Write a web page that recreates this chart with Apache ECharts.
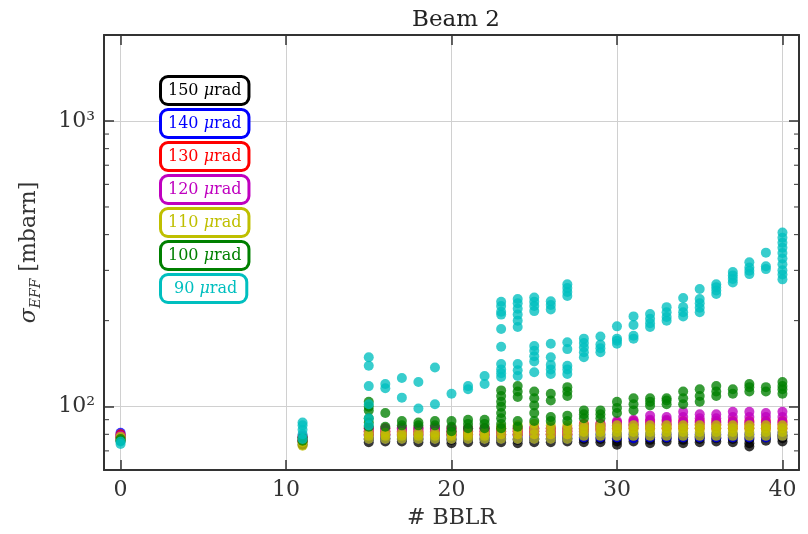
<!DOCTYPE html>
<html>
<head>
<meta charset="utf-8">
<script src="https://cdn.jsdelivr.net/npm/echarts@6/dist/echarts.min.js"></script>
<style>html,body{margin:0;padding:0;background:#fff;}#c{width:808px;height:534px;}</style>
</head>
<body>
<div id="c"></div>
<script>
// ---- data ----
const bblr = [0, 11, 15, 16, 17, 18, 19, 20, 21, 22, 23, 24, 25, 26, 27, 28, 29, 30, 31, 32, 33, 34, 35, 36, 37, 38, 39, 40];
const seriesNames = ['150 μrad', '140 μrad', '130 μrad', '120 μrad', '110 μrad', '100 μrad', '90 μrad'];
const yTickLabels = {100: '10²', 1000: '10³'};
const minorTickValues = [70, 80, 90, 200, 300, 400, 500, 600, 700, 800, 900, 2000];

const sig150 = [[76,78],[73.5,75.5],[75,77],[75.5,77.5],[75.5,77],[75,77],[75,77],[74.5,76.5],[75,77],[75,77],[75,77],[74.5,76.5],[75,77],[75,77],[75.5,77.5],
  [75,77],[75,77],[73.5,75.5,77.5],[75.5,77.5],[74.5,76.5,78],[75.5,77.5],[74.5,76.5,78],[75,77,78.5],[75.5,77.5],[75,77,79],[72.5,74.5,77],[76,78],[75.5,77.5,79]];
const sig140 = [[79.5,81],[76,78],[77,79],[77,79],[77,79],[77,79],[77,79],[77,79],[77,79],[77,79],[77,79],[77,79],[77,79],[77,79],[77,79],
  [78,80],[78,80],[78,80],[77.5,80],[78,80],[78,80],[78,80],[78,80],[78,80],[78,80],[78,80],[78,80],[79,81]];
const sig130 = [[78.5,80],[76,78],[80,82,84],[80,82,84],[80,82,84],[80,82,84],[80,82,84],[80,82,84],[80,82,84],[80,82,84],[80,82,84],[80,82,84],[80,82,84],[80,82,84],[80,82,84],
  [83,85,87],[83,85,87],[84,86,88],[84,86.5,89],[84,86.5,89],[84,86.5,89],[84,86.5,89],[84,86.5,89],[84,86.5,89],[84,86.5,89],[84,86.5,89],[84,86.5,89],[84,86.5,89]];
const sig120 = [[78,79],[77,79],[80,82,84],[80,82,84],[81,83,84.5],[81,83,84.5],[81,83,84.5],[80,82,84],[80,82,84],[80,82,84],[80,82,84],[80,82,84],[80,82,84],[80,82,84],[80,82,84],
  [82,84,86],[83,85,87],[85,87,89],[86,88,90],[87,90,93],[87,90,92],[88,92,96],[88,91,94],[88,91,94],[88,92,96],[88,92,96],[88,92,95],[88,92,96]];
const sig110 = [[77,78.5],[73,75,77],[77,79,81],[77,79,81],[77,79,81],[77,79,81],[77,79,81],[77,79,81],[77,79,81],[77,79,81],[77,80,83,85],[77,80,83,86],[77,80,83,87],[77,80,83,86],[77,80,83,86],
  [79,81.5,84,86],[79,81.5,84,86],[79,81.5,84,86],[79,81.5,84,86],[79,81.5,84,86],[79,81.5,84,86],[79,81.5,84,86],[79,81.5,84,86],[79,81.5,84,86],[79,81.5,84,86],[79,81.5,84,86],[79,81.5,84,86],[79,81.5,84,86]];
const sig100 = [[76,77],[76,78],[85,88,91,97,100,104],[85,95],[86,89],[86,88],[86,89],[82,85,89],[84,87,90],[84,87,90],[84,87,91,95,100,104,109,114],[85,89,108,113,118],[89,95,101,107,113],[89,92,105,111],[89,93,109,113,117],
  [91,94,97],[91,94,97],[95,99,104],[97,102,107],[101,104,107],[102,105,107],[102,107,113],[104,109,115],[109,113,118],[111,115],[113,117,120],[113,117],[111,115,118,122]];
const sig90 = [[74,75.5],[77,80,83,86,88],[86,91,102,118,139,149],[116,120],[107.5,126],[98.5,122],[102,137],[111],[115,118],[120,128],
  [127,131,135,141,162,187,210,215,225,233],[128,134,141,190,200,210,220,230,238],[132,144,150,157,163,216,225,233,241],[130,135,140,149,166,219,227,234],[130,135,139,159,168,244,252,260,268],
  [149,155,161,167,173],[155,160,165,176],[166,170,173,191],[173,177,193,207],[190,196,203,211],[200,206,214,223],[207,214,223,240],[214,222,230,238,258],[248,255,262,268],[272,280,288,296],[291,299,307,320],[303,310,346],
  [279,290,300,315,330,345,360,375,390,407]];
const seriesValues = [sig150, sig140, sig130, sig120, sig110, sig100, sig90];

// ---- styles ----
const seriesColors = ['#000000', '#0000ff', '#ff0000', '#bf00bf', '#bfbf00', '#008000', '#00bfbf'];
const FONT = 'DejaVu Serif';
const AX = '#333333';

function toPoints(vals) {
  const pts = [];
  vals.forEach((arr, i) => arr.forEach(v => pts.push([bblr[i], v])));
  return pts;
}

const chart = echarts.init(document.getElementById('c'), null, {renderer: 'canvas'});

const scatterSeries = seriesNames.map((name, i) => ({
  name: name,
  type: 'scatter',
  xAxisIndex: 0, yAxisIndex: 0,
  data: toPoints(seriesValues[i]),
  symbol: 'circle',
  symbolSize: 10,
  itemStyle: {color: seriesColors[i], opacity: 0.78},
  emphasis: {disabled: true},
  z: 3 + i
}));

const minorTicks = {
  type: 'custom',
  xAxisIndex: 0, yAxisIndex: 0,
  silent: true,
  clip: false,
  z: 20,
  data: minorTickValues.map(v => [v]),
  renderItem: function (params, api) {
    const v = api.value(0);
    const pL = api.coord([-1, v]);
    const pR = api.coord([41, v]);
    return {
      type: 'group',
      children: [
        {type: 'line', shape: {x1: pL[0], y1: pL[1], x2: pL[0] + 5, y2: pL[1]}, style: {stroke: AX, lineWidth: 1}},
        {type: 'line', shape: {x1: pR[0], y1: pR[1], x2: pR[0] - 5, y2: pR[1]}, style: {stroke: AX, lineWidth: 1}}
      ]
    };
  }
};

function legendLabel(name, i) {
  const short = name.length < 8;
  return {
    name: name,
    textStyle: {
      color: seriesColors[i],
      borderColor: seriesColors[i],
      borderWidth: 3,
      borderRadius: 6,
      backgroundColor: '#ffffff',
      padding: short ? [3, 8, 3, 12] : [3, 6, 3, 6],
      rich: {
        n: {color: seriesColors[i], fontFamily: FONT, fontSize: 16, lineHeight: 19},
        m: {color: seriesColors[i], fontFamily: FONT, fontSize: 16, lineHeight: 19, fontStyle: 'italic'}
      }
    }
  };
}

const option = {
  animation: false,
  backgroundColor: '#ffffff',
  title: {
    text: 'Beam 2',
    left: 451,
    textAlign: 'center',
    top: 4,
    textStyle: {fontFamily: FONT, fontSize: 23, fontWeight: 'normal', color: '#222'}
  },
  legend: {
    orient: 'vertical',
    left: 152,
    top: 70,
    itemGap: 2,
    itemWidth: 0,
    itemHeight: 0,
    icon: 'none',
    selectedMode: false,
    data: seriesNames.map(legendLabel),
    formatter: function (name) {
      const parts = name.split(' ');
      return '{n|' + parts[0] + ' }{m|μ}{n|rad}';
    }
  },
  grid: {left: 104, right: 9, top: 35, bottom: 62},
  xAxis: [{
    type: 'value',
    min: -1, max: 41,
    position: 'bottom',
    name: '# BBLR',
    nameLocation: 'middle',
    nameGap: 37,
    nameTextStyle: {fontFamily: FONT, fontSize: 22, color: '#333'},
    axisLine: {show: true, onZero: false, lineStyle: {color: AX, width: 2}},
    axisTick: {show: true, inside: true, length: 10, lineStyle: {color: AX, width: 1.5}},
    axisLabel: {fontFamily: FONT, fontSize: 22, color: '#333', margin: 9, showMinLabel: false, showMaxLabel: false,
      formatter: v => (v % 10 === 0 ? String(v) : '')},
    splitLine: {show: true, lineStyle: {color: '#d0d0d0', width: 1}}
  }, {
    type: 'value',
    min: -1, max: 41,
    position: 'top',
    axisLine: {show: true, onZero: false, lineStyle: {color: AX, width: 2}},
    axisTick: {show: true, inside: true, length: 10, lineStyle: {color: AX, width: 1.5}},
    axisLabel: {show: false},
    splitLine: {show: false}
  }],
  yAxis: [{
    type: 'log',
    logBase: 10,
    min: 60, max: 2000,
    position: 'left',
    name: '{a|σ}{b|EFF}{c| [mbarn]}',
    nameLocation: 'middle',
    nameRotate: 90,
    nameGap: 61,
    nameTextStyle: {
      rich: {
        a: {fontFamily: FONT, fontSize: 22, fontStyle: 'italic', color: '#333', lineHeight: 28, verticalAlign: 'middle'},
        b: {fontFamily: FONT, fontSize: 14, fontStyle: 'italic', color: '#333', lineHeight: 15, verticalAlign: 'bottom'},
        c: {fontFamily: FONT, fontSize: 22, color: '#333', lineHeight: 28, verticalAlign: 'middle'}
      }
    },
    axisLine: {show: true, onZero: false, lineStyle: {color: AX, width: 2}},
    axisTick: {show: true, inside: true, length: 10, lineStyle: {color: AX, width: 1.5}},
    axisLabel: {fontFamily: FONT, fontSize: 22, color: '#333', margin: 9, showMinLabel: false, showMaxLabel: false,
      formatter: v => (yTickLabels[Math.round(v)] || '')},
    splitLine: {show: true, lineStyle: {color: '#d0d0d0', width: 1}}
  }, {
    type: 'log',
    logBase: 10,
    min: 60, max: 2000,
    position: 'right',
    axisLine: {show: true, onZero: false, lineStyle: {color: AX, width: 2}},
    axisTick: {show: true, inside: true, length: 10, lineStyle: {color: AX, width: 1.5}},
    axisLabel: {show: false},
    splitLine: {show: false}
  }],
  series: scatterSeries.concat([minorTicks])
};

chart.setOption(option);
</script>
</body>
</html>
